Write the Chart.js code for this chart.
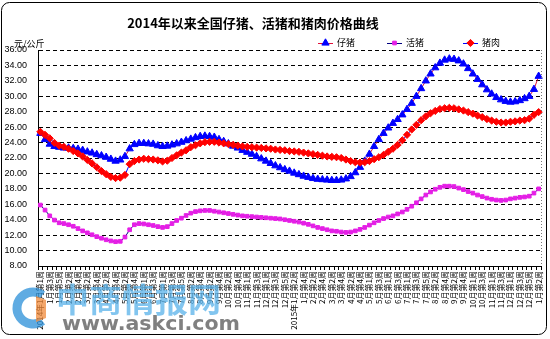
<!DOCTYPE html>
<html>
<head>
<meta charset="utf-8">
<script src="https://cdn.jsdelivr.net/npm/chart.js@4.4.1/dist/chart.umd.min.js"></script>
<style>
  html, body { margin: 0; padding: 0; background: #fff; }
  #wrap { width: 550px; height: 339px; position: relative; }
</style>
</head>
<body>
<div id="wrap"><canvas id="c" width="550" height="339"></canvas></div>
<script>
// Weekly categories, Jan 2014 – Jan 2016
const weekLabels = [
  "2014年1月第1周","1月第2周","1月第3周","1月第4周","1月第5周",
  "2月第1周","2月第2周","2月第3周","2月第4周",
  "3月第1周","3月第2周","3月第3周","3月第4周",
  "4月第1周","4月第2周","4月第3周","4月第4周",
  "5月第1周","5月第2周","5月第3周","5月第4周","5月第5周",
  "6月第1周","6月第2周","6月第3周","6月第4周",
  "7月第1周","7月第2周","7月第3周","7月第4周","7月第5周",
  "8月第1周","8月第2周","8月第3周","8月第4周",
  "9月第1周","9月第2周","9月第3周","9月第4周",
  "10月第1周","10月第2周","10月第3周","10月第4周","10月第5周",
  "11月第1周","11月第2周","11月第3周","11月第4周",
  "12月第1周","12月第2周","12月第3周","12月第4周","12月第5周",
  "1月第1周","2015年1月第2周","1月第3周","1月第4周",
  "2月第1周","2月第2周","2月第3周","2月第4周",
  "3月第1周","3月第2周","3月第3周","3月第4周",
  "4月第1周","4月第2周","4月第3周","4月第4周","4月第5周",
  "5月第1周","5月第2周","5月第3周","5月第4周",
  "6月第1周","6月第2周","6月第3周","6月第4周",
  "7月第1周","7月第2周","7月第3周","7月第4周","7月第5周",
  "8月第1周","8月第2周","8月第3周","8月第4周",
  "9月第1周","9月第2周","9月第3周","9月第4周","9月第5周",
  "10月第1周","10月第2周","10月第3周","10月第4周",
  "11月第1周","11月第2周","11月第3周","11月第4周",
  "12月第1周","12月第2周","12月第3周","12月第4周","12月第5周",
  "1月第1周","1月第2周"
];

// 仔猪 (piglet) price, 元/公斤
const pigletPrice = [
  25.2,24.4,23.8,23.5,23.4,23.3,23.3,23.25,23.15,23.0,
  22.8,22.65,22.45,22.3,22.1,21.85,21.6,21.75,22.2,23.2,
  23.75,23.9,23.9,23.85,23.8,23.6,23.5,23.55,23.7,23.85,
  24.05,24.25,24.45,24.65,24.8,24.85,24.8,24.7,24.4,24.15,
  23.85,23.55,23.3,23.0,22.75,22.5,22.2,21.9,21.6,21.3,
  21.0,20.75,20.5,20.3,20.05,19.85,19.65,19.5,19.35,19.25,
  19.2,19.15,19.1,19.1,19.15,19.3,19.6,20.1,20.8,21.6,
  22.5,23.5,24.4,25.2,25.9,26.5,27.0,27.6,28.3,29.1,
  30.0,31.0,32.0,32.9,33.7,34.3,34.7,34.85,34.8,34.6,
  34.2,33.6,32.9,32.2,31.5,30.85,30.3,29.85,29.55,29.35,
  29.25,29.3,29.45,29.7,30.0,30.9,32.6
];

// 活猪 (live hog) price, 元/公斤
const hogPrice = [
  15.9,15.25,14.5,13.95,13.6,13.5,13.35,13.15,12.85,12.55,
  12.3,12.05,11.8,11.6,11.4,11.25,11.15,11.2,11.75,12.7,
  13.35,13.5,13.45,13.35,13.25,13.1,13.0,13.1,13.5,13.9,
  14.2,14.55,14.85,15.05,15.15,15.2,15.2,15.1,15.0,14.9,
  14.8,14.7,14.6,14.5,14.45,14.4,14.35,14.3,14.25,14.2,
  14.15,14.1,14.0,13.9,13.8,13.7,13.55,13.4,13.2,13.0,
  12.85,12.7,12.55,12.5,12.4,12.35,12.4,12.55,12.75,13.0,
  13.3,13.6,13.9,14.15,14.35,14.5,14.75,15.0,15.35,15.75,
  16.2,16.7,17.2,17.6,17.95,18.2,18.35,18.35,18.3,18.1,
  17.9,17.65,17.45,17.2,17.0,16.8,16.65,16.55,16.5,16.55,
  16.7,16.8,16.9,16.95,17.05,17.45,18.0
];

// 猪肉 (pork) price, 元/公斤
const porkPrice = [
  25.4,25.0,24.55,23.95,23.6,23.45,23.2,22.9,22.6,22.2,
  21.75,21.3,20.8,20.3,19.9,19.55,19.4,19.45,19.8,21.2,
  21.6,21.8,21.9,21.85,21.8,21.7,21.55,21.65,22.0,22.35,
  22.7,23.0,23.4,23.65,23.9,24.05,24.1,24.1,24.0,23.9,
  23.8,23.7,23.6,23.5,23.45,23.4,23.35,23.3,23.25,23.2,
  23.1,23.05,23.0,22.9,22.85,22.8,22.7,22.6,22.5,22.4,
  22.3,22.2,22.15,22.1,22.0,21.8,21.6,21.45,21.4,21.45,
  21.6,21.85,22.1,22.4,22.8,23.2,23.7,24.3,25.0,25.7,
  26.3,26.9,27.4,27.8,28.1,28.35,28.45,28.5,28.45,28.3,
  28.15,27.95,27.75,27.5,27.3,27.05,26.85,26.7,26.6,26.6,
  26.7,26.75,26.85,26.9,27.1,27.6,27.95
];

const yTicks = { min: 8, max: 36, step: 2 };

const CJK = '"Noto Sans CJK SC", "Noto Sans", sans-serif';

const series = [
  { label: '仔猪', data: pigletPrice, line: '#e0103a', fill: '#0000ff', style: 'triangle', r: 4.2, order: 2 },
  { label: '活猪', data: hogPrice,    line: '#000080', fill: '#e61ee6', style: 'rect',     r: 2.6, order: 1 },
  { label: '猪肉', data: porkPrice,   line: '#0000ff', fill: '#ff0000', style: 'rectRot',  r: 3.6, order: 0 }
];

// Title, unit, legend, frame and site mark
const decor = {
  id: 'decor',
  beforeDraw(chart) {
    const ctx = chart.ctx;
    ctx.save();
    ctx.fillStyle = '#fff';
    ctx.fillRect(0, 0, chart.width, chart.height);
    ctx.restore();
  },
  afterDraw(chart) {
    const ctx = chart.ctx;
    const area = chart.chartArea;
    ctx.save();

    // title
    ctx.fillStyle = '#000';
    ctx.font = 'bold 13px ' + CJK;
    ctx.textAlign = 'center';
    ctx.textBaseline = 'middle';
    ctx.fillText('2014年以来全国仔猪、活猪和猪肉价格曲线', 253, 23);

    // unit
    ctx.font = '9px ' + CJK;
    ctx.textAlign = 'left';
    ctx.fillText('元/公斤', 14, 44);

    // legend
    const legendPos = [318, 387, 463];
    series.forEach((s, i) => {
      const x0 = legendPos[i], y = 43;
      ctx.strokeStyle = s.line;
      ctx.lineWidth = 1;
      ctx.beginPath();
      ctx.moveTo(x0, y + 0.5);
      ctx.lineTo(x0 + 15, y + 0.5);
      ctx.stroke();
      ctx.fillStyle = s.fill;
      ctx.strokeStyle = s.fill;
      Chart.helpers.drawPoint(ctx, { pointStyle: s.style, radius: s.r, rotation: 0, borderWidth: 1 }, x0 + 7.5, y);
      ctx.fillStyle = '#000';
      ctx.font = '9px ' + CJK;
      ctx.textAlign = 'left';
      ctx.textBaseline = 'middle';
      ctx.fillText(s.label, x0 + 19, y);
    });

    // dotted right edge of plot
    ctx.strokeStyle = '#777';
    ctx.lineWidth = 1;
    ctx.setLineDash([1, 2]);
    ctx.beginPath();
    ctx.moveTo(Math.round(area.right) + 0.5, area.top);
    ctx.lineTo(Math.round(area.right) + 0.5, area.bottom);
    ctx.stroke();
    ctx.setLineDash([]);

    // site mark
    ctx.globalAlpha = 0.75;
    ctx.strokeStyle = '#2a8fd8';
    ctx.lineWidth = 9;
    ctx.beginPath();
    ctx.arc(33, 308, 16, 0.3 * Math.PI, 1.7 * Math.PI);
    ctx.stroke();
    ctx.fillStyle = '#f08a3a';
    ctx.beginPath();
    ctx.moveTo(36, 296); ctx.lineTo(46, 300); ctx.lineTo(46, 318); ctx.lineTo(36, 322);
    ctx.closePath();
    ctx.fill();
    ctx.fillStyle = '#58b2ea';
    ctx.font = 'bold 33px ' + CJK;
    ctx.textAlign = 'left';
    ctx.textBaseline = 'middle';
    ctx.fillText('中商情报网', 56, 299);
    ctx.fillStyle = '#555';
    ctx.font = 'bold 19px "DejaVu Sans", sans-serif';
    const w = ctx.measureText('www.askci.com').width;
    ctx.translate(62, 325);
    ctx.scale(178 / w, 1);
    ctx.fillText('www.askci.com', 0, 0);
    ctx.setTransform(1, 0, 0, 1, 0, 0);
    ctx.globalAlpha = 1;

    // rounded outer frame
    ctx.strokeStyle = '#000';
    ctx.lineWidth = 1;
    ctx.beginPath();
    ctx.roundRect(1.5, 2.5, 545, 332, 8);
    ctx.stroke();

    ctx.restore();
  }
};

new Chart(document.getElementById('c'), {
  type: 'line',
  data: {
    labels: weekLabels,
    datasets: series.map(s => ({
      label: s.label,
      data: s.data,
      order: s.order,
      borderColor: s.line,
      borderWidth: 1,
      tension: 0,
      pointStyle: s.style,
      pointRadius: s.r,
      pointHoverRadius: s.r,
      pointBackgroundColor: s.fill,
      pointBorderColor: s.fill,
      pointBorderWidth: 1,
      fill: false
    }))
  },
  options: {
    responsive: false,
    animation: false,
    devicePixelRatio: 1,
    layout: { padding: { top: 50, left: 0, right: 9, bottom: 0 } },
    plugins: {
      legend: { display: false },
      title: { display: false },
      tooltip: { enabled: false }
    },
    scales: {
      x: {
        offset: true,
        afterFit(scale) { scale.height = 73; },
        grid: { display: true, drawOnChartArea: false, drawTicks: true, tickLength: 4, color: '#000', offset: true },
        border: { display: true, color: '#000', width: 1 },
        ticks: {
          autoSkip: false,
          maxRotation: 90,
          minRotation: 90,
          padding: 1,
          color: '#000',
          font: { size: 8, family: CJK },
          callback: (v, i) => (i % 2 === 0 ? weekLabels[i] : '')
        }
      },
      y: {
        min: yTicks.min,
        max: yTicks.max,
        afterFit(scale) { scale.width = 38; },
        grid: { color: '#000', drawTicks: false, lineWidth: 1 },
        border: { display: true, color: '#000', width: 1, dash: [4, 3] },
        ticks: {
          stepSize: yTicks.step,
          padding: 11,
          color: '#000',
          font: { size: 9, family: '"Liberation Sans", sans-serif' },
          callback: v => v.toFixed(2)
        }
      }
    }
  },
  plugins: [decor]
});
</script>
</body>
</html>
